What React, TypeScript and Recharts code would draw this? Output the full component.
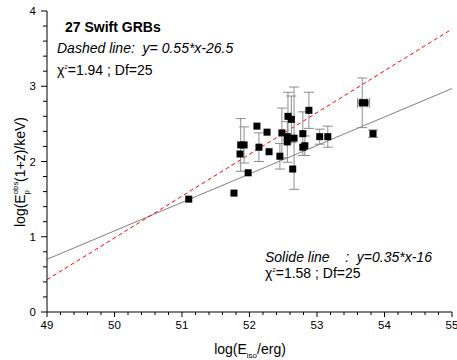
import React from 'react';
import {
  ScatterChart,
  Scatter,
  XAxis,
  YAxis,
  ErrorBar,
  ReferenceLine,
  Customized,
} from 'recharts';

// log(Eiso/erg) of the 27 Swift GRBs
const logEiso = [
  51.10, 51.77, 51.98, 51.86, 51.87, 51.92, 52.11, 52.14, 52.26, 52.29, 52.45, 52.48, 52.56, 52.56,
  52.57, 52.62, 52.64, 52.66, 52.79, 52.79, 52.82, 52.88, 53.04, 53.16, 53.67, 53.71, 53.83,
];
// log(Ep_obs (1+z) / keV)
const logEp = [
  1.50, 1.58, 1.85, 2.10, 2.22, 2.22, 2.47, 2.19, 2.39, 2.13, 2.07, 2.38, 2.33, 2.26,
  2.60, 2.56, 1.90, 2.31, 2.37, 2.19, 2.21, 2.68, 2.33, 2.33, 2.78, 2.78, 2.37,
];
const logEpErr = [
  0, 0, 0, 0, 0.35, 0.24, 0, 0.19, 0, 0, 0.17, 0.33, 0, 0.27,
  0.32, 0.31, 0, 0.68, 0.29, 0, 0.13, 0.24, 0.10, 0.14, 0.33, 0, 0.05,
];
const logEisoErr = [
  0, 0, 0, 0, 0, 0, 0, 0, 0, 0, 0, 0, 0, 0,
  0, 0, 0, 0, 0, 0, 0, 0, 0, 0, 0.07, 0.07, 0,
];

// fit lines, [x, y] end points
const dashedFit = [[49, 0.43], [55, 3.76]];
const solidFit = [[49, 0.70], [55, 2.97]];

const xMajor = [49, 50, 51, 52, 53, 54, 55];
const yMajor = [0, 1, 2, 3, 4];

const withMinor = (major: number[]) => {
  const out: number[] = [];
  for (let i = 0; i < major.length - 1; i++) {
    for (let k = 0; k < 5; k++) out.push(+(major[i] + k * 0.2).toFixed(1));
  }
  out.push(major[major.length - 1]);
  return out;
};
const xTicks = withMinor(xMajor);
const yTicks = withMinor(yMajor);

const data = logEiso.map((x, i) => ({ x, y: logEp[i], ey: logEpErr[i], ex: logEisoErr[i] }));

const FONT = '"Liberation Sans", Arial, sans-serif';
const isMajor = (v: number) => Math.abs(v - Math.round(v)) < 1e-6;

const BottomTick = ({ x, y, payload }: any) => {
  const major = isMajor(payload.value);
  return (
    <g>
      <line x1={x} x2={x} y1={y} y2={y + (major ? 5 : 3)} stroke="#000" />
      {major && (
        <text x={x} y={y + 17} textAnchor="middle" fontSize={11.5} fontFamily={FONT} fill="#000">
          {payload.value}
        </text>
      )}
    </g>
  );
};

const TopTick = ({ x, y, payload }: any) => {
  const major = isMajor(payload.value);
  return <line x1={x} x2={x} y1={y} y2={y + (major ? 5 : 3)} stroke="#000" />;
};

const LeftTick = ({ x, y, payload }: any) => {
  const major = isMajor(payload.value);
  return (
    <g>
      <line x1={x - (major ? 6 : 4)} x2={x} y1={y} y2={y} stroke="#000" />
      {major && (
        <text x={x - 11} y={y + 4} textAnchor="end" fontSize={11.5} fontFamily={FONT} fill="#000">
          {payload.value}
        </text>
      )}
    </g>
  );
};

const RightTick = ({ x, y, payload }: any) => {
  const major = isMajor(payload.value);
  return <line x1={x - (major ? 5 : 3)} x2={x} y1={y} y2={y} stroke="#000" />;
};

const Square = ({ cx, cy }: any) => <rect x={cx - 3.5} y={cy - 3.5} width={7} height={7} fill="#000" />;

const pre = { whiteSpace: 'pre' as const };

const Annotations = () => (
  <g fontFamily={FONT} fill="#000">
    <text x={65} y={32} fontSize={14} fontWeight="bold">27 Swift GRBs</text>
    <text x={57} y={53} fontSize={14} fontStyle="italic" style={pre}>{'Dashed line:  y= 0.55*x-26.5'}</text>
    <text x={57} y={75} fontSize={14}>
      χ<tspan fontSize={6} dy={-6}>2</tspan>
      <tspan dy={6}>=1.94 ; Df=25</tspan>
    </text>
    <text x={265} y={262} fontSize={14} fontStyle="italic" style={pre}>
      {'Solide line    :  y=0.35*x-16'}
    </text>
    <text x={265} y={278} fontSize={14}>
      χ<tspan fontSize={6} dy={-6}>2</tspan>
      <tspan dy={6}>=1.58 ; Df=25</tspan>
    </text>
    <text x={250} y={354} fontSize={14} textAnchor="middle">
      log(E<tspan fontSize={8} dy={4}>iso</tspan>
      <tspan dy={-4}>/erg)</tspan>
    </text>
    <text x={25} y={172} fontSize={14} textAnchor="middle" transform="rotate(-90, 25, 172)">
      log(E<tspan fontSize={8} dy={-7}>obs</tspan>
      <tspan fontSize={8} dx={-13} dy={11}>p</tspan>
      <tspan dx={8} dy={-4}>(1+z)/keV)</tspan>
    </text>
  </g>
);

export default function App() {
  return (
    <div style={{ position: 'absolute', left: 0, top: 0, width: 457, height: 360, background: '#fff' }}>
      <ScatterChart width={457} height={360} margin={{ top: 11, right: 5, bottom: 0, left: 0 }}>
        <XAxis
          type="number"
          dataKey="x"
          domain={[49, 55]}
          ticks={xTicks}
          interval={0}
          height={48}
          tickSize={0}
          tickMargin={0}
          tickLine={false}
          tick={<BottomTick />}
          axisLine={{ stroke: '#000' }}
          allowDataOverflow
        />
        <XAxis
          xAxisId="top"
          orientation="top"
          type="number"
          domain={[49, 55]}
          ticks={xTicks}
          interval={0}
          height={0}
          tickSize={0}
          tickMargin={0}
          tickLine={false}
          tick={<TopTick />}
          axisLine={{ stroke: '#000' }}
          allowDataOverflow
        />
        <YAxis
          type="number"
          dataKey="y"
          domain={[0, 4]}
          ticks={yTicks}
          interval={0}
          width={47}
          tickSize={0}
          tickMargin={0}
          tickLine={false}
          tick={<LeftTick />}
          axisLine={{ stroke: '#000' }}
          allowDataOverflow
        />
        <YAxis
          yAxisId="right"
          orientation="right"
          type="number"
          domain={[0, 4]}
          ticks={yTicks}
          interval={0}
          width={0}
          tickSize={0}
          tickMargin={0}
          tickLine={false}
          tick={<RightTick />}
          axisLine={{ stroke: '#000' }}
          allowDataOverflow
        />
        <ReferenceLine
          segment={solidFit.map(([x, y]) => ({ x, y }))}
          stroke="#7f7f7f"
          strokeWidth={1}
        />
        <ReferenceLine
          segment={dashedFit.map(([x, y]) => ({ x, y }))}
          stroke="#ff0000"
          strokeWidth={1}
          strokeDasharray="4 3"
        />
        <Scatter data={data} shape={<Square />} isAnimationActive={false}>
          <ErrorBar dataKey="ey" direction="y" width={5} stroke="#8c8c8c" strokeWidth={1} />
          <ErrorBar dataKey="ex" direction="x" width={5} stroke="#8c8c8c" strokeWidth={1} />
        </Scatter>
        <Customized component={<Annotations />} />
      </ScatterChart>
    </div>
  );
}
